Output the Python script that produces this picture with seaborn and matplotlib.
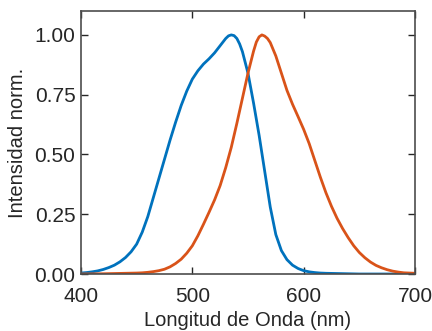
import numpy as np
import pandas as pd
import matplotlib
matplotlib.use("Agg")
import matplotlib.pyplot as plt
import seaborn as sns

# Wavelength grids (nm) and normalised intensities
wl_blue = [400, 405, 410, 415, 420, 425, 430, 435, 440, 445, 450, 455, 460, 465,
           470, 475, 480, 485, 490, 495, 500, 505, 510, 515, 520, 525, 530, 532.5,
           535, 537.5, 540, 542.5, 545, 550, 555, 560, 565, 570, 575, 580, 585,
           590, 595, 600, 605, 610, 615, 620, 630, 640, 650, 660, 680, 700]
int_blue = [0.004, 0.006, 0.009, 0.013, 0.019, 0.027, 0.037, 0.051, 0.069, 0.093,
            0.125, 0.175, 0.24, 0.32, 0.40, 0.48, 0.56, 0.635, 0.705, 0.765,
            0.815, 0.85, 0.878, 0.90, 0.925, 0.955, 0.985, 0.996,
            1.0, 0.997, 0.985, 0.962, 0.93, 0.84, 0.715, 0.58, 0.43, 0.28, 0.165,
            0.098, 0.06, 0.037, 0.023, 0.014, 0.009, 0.006, 0.004, 0.003, 0.002,
            0.001, 0.0, 0.0, 0.0, 0.0]

wl_orange = [400, 420, 430, 440, 450, 455, 460, 465, 470, 475, 480, 485, 490, 495,
             500, 505, 510, 515, 520, 525, 530, 535, 540, 545, 550, 555, 557.5,
             560, 562.5, 565, 567.5, 570, 575, 580, 585, 590, 595, 600, 605, 610,
             615, 620, 625, 630, 635, 640, 645, 650, 655, 660, 665, 670, 675, 680,
             685, 690, 695, 700]
int_orange = [0.0, 0.001, 0.002, 0.003, 0.004, 0.005, 0.007, 0.01, 0.014, 0.02,
              0.03, 0.044, 0.062, 0.087, 0.118, 0.16, 0.208, 0.258, 0.31, 0.37,
              0.445, 0.53, 0.63, 0.735, 0.84, 0.932, 0.97,
              0.992, 1.0, 0.995, 0.985, 0.968, 0.912, 0.84, 0.768, 0.71, 0.658,
              0.605, 0.545, 0.475, 0.405, 0.34, 0.283, 0.233, 0.19, 0.152, 0.118,
              0.09, 0.068, 0.05, 0.036, 0.026, 0.018, 0.012, 0.008, 0.005, 0.004,
              0.003]

x_ticks = [400, 500, 600, 700]
y_ticks = [0.00, 0.25, 0.50, 0.75, 1.00]
x_label = "Longitud de Onda (nm)"
y_label = "Intensidad norm."

sns.set_style("ticks")
plt.rcParams["font.family"] = ["Liberation Sans", "DejaVu Sans"]

df = pd.concat([
    pd.DataFrame({"wl": wl_blue, "val": int_blue, "s": "blue"}),
    pd.DataFrame({"wl": wl_orange, "val": int_orange, "s": "orange"}),
])

fig = plt.figure(figsize=(4.32, 3.31), dpi=100)
ax = fig.add_axes([0.1875, 0.1722, 0.7731, 0.7946])
sns.lineplot(data=df, x="wl", y="val", hue="s",
             palette={"blue": "#0072BD", "orange": "#D95319"},
             linewidth=2.0, legend=False, ax=ax)

ax.set_xlim(400, 700)
ax.set_ylim(0, 1.1)
ax.set_xticks(x_ticks)
ax.set_xticklabels([str(v) for v in x_ticks])
ax.set_yticks(y_ticks)
ax.set_yticklabels([f"{v:.2f}" for v in y_ticks])
ax.set_xlabel(x_label, fontsize=14.5, color="#262626", labelpad=4)
ax.set_ylabel(y_label, fontsize=14.5, color="#262626", labelpad=5)

for sp in ax.spines.values():
    sp.set_visible(True)
    sp.set_color("#4d4d4d")
    sp.set_linewidth(1.2)
ax.tick_params(direction="in", length=5, width=1.0, color="#262626",
               labelsize=15, labelcolor="#262626",
               top=True, right=True)
ax.tick_params(axis="x", pad=9)
ax.tick_params(axis="y", pad=4)

fig.savefig("out.png", dpi=100)
